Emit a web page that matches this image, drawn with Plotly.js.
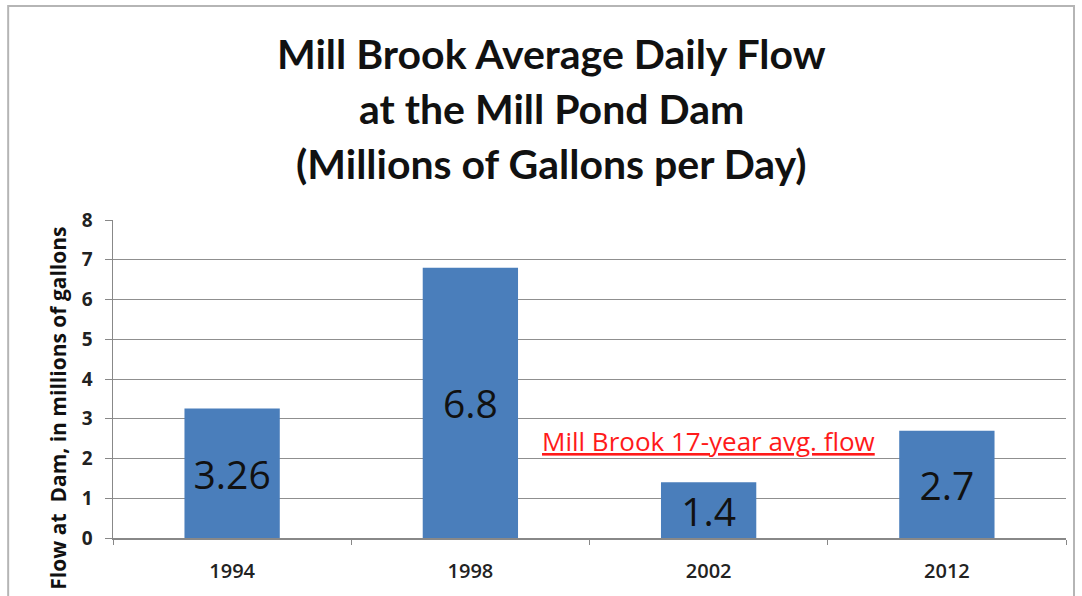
<!DOCTYPE html>
<html>
<head>
<meta charset="utf-8">
<script src="https://cdn.plot.ly/plotly-3.0.1.min.js"></script>
<style>html,body{margin:0;padding:0;background:#fff;}#chart{width:1082px;height:596px;}</style>
</head>
<body>
<div id="chart"></div>
<script>
const years = ['1994', '1998', '2002', '2012'];
const flows = [3.26, 6.8, 1.4, 2.7];
const flowLabels = ['3.26', '6.8', '1.4', '2.7'];
const titleLines = ['Mill Brook Average Daily Flow', 'at the Mill Pond Dam', '(Millions of Gallons per Day)'];
const yTitle = 'Flow at  Dam, in millions of gallons';
const noteText = 'Mill Brook 17-year avg. flow';
const noteYear = '2002';
const noteValue = 2.45;

const FONT = 'Lato, "Open Sans", sans-serif';
const OPEN = '"Open Sans", Lato, sans-serif';

const trace = {
  type: 'bar',
  x: years,
  y: flows,
  text: flowLabels,
  textposition: 'inside',
  insidetextanchor: 'middle',
  textangle: 0,
  textfont: {family: OPEN, size: 39, color: '#111'},
  constraintext: 'none',
  marker: {color: '#4a7ebb'},
  width: 0.4,
  hoverinfo: 'none'
};

const titleY = [1.525, 1.352, 1.179];
const annotations = titleLines.map((t, i) => ({
  text: t, xref: 'paper', yref: 'paper', x: 0.46, y: titleY[i],
  xanchor: 'center', yanchor: 'middle', showarrow: false,
  font: {family: FONT, size: 41, color: '#111', weight: 'bold'}
}));
annotations.push({
  text: yTitle, xref: 'paper', yref: 'paper', x: -0.058, y: 0.409,
  xanchor: 'center', yanchor: 'middle', textangle: -90, showarrow: false,
  font: {family: OPEN, size: 21, color: '#111', weight: 'bold'}
});
annotations.push({
  text: '<u>' + noteText + '</u>', x: years.indexOf(noteYear), y: noteValue, xref: 'x', yref: 'y',
  xanchor: 'center', yanchor: 'middle', showarrow: false,
  font: {family: OPEN, size: 26, color: '#ff1a1a'}
});

const layout = {
  width: 1082, height: 596,
  margin: {l: 113, r: 16, t: 220, b: 58},
  paper_bgcolor: '#fff', plot_bgcolor: '#fff',
  showlegend: false,
  font: {family: FONT, color: '#222'},
  xaxis: {
    type: 'category', range: [-0.5, years.length - 0.5], autorange: false,
    tickson: 'boundaries', ticks: 'outside', ticklen: 5, tickangle: 0,
    tickcolor: '#888', showline: true, linecolor: '#888', linewidth: 1.5,
    showgrid: false, tickfont: {family: OPEN, size: 20, color: '#222', weight: 600},
    ticklabelstandoff: 14,
    fixedrange: true
  },
  yaxis: {
    range: [0, 8], autorange: false, dtick: 1, ticks: 'outside', ticklen: 7, tickcolor: '#888',
    showline: true, linecolor: '#888', linewidth: 1.5,
    showgrid: true, gridcolor: '#8f8f8f', gridwidth: 1, zeroline: false,
    tickfont: {family: OPEN, size: 19, color: '#222', weight: 'bold'}, fixedrange: true,
    ticklabelstandoff: 8
  },
  annotations: annotations,
  shapes: [{
    type: 'rect', xref: 'paper', yref: 'paper',
    x0: -0.110, x1: 1.0084, y0: -0.2, y1: 1.673,
    line: {color: '#b5b5b5', width: 2}, fillcolor: 'rgba(0,0,0,0)', layer: 'below'
  }]
};

Plotly.newPlot('chart', [trace], layout, {displayModeBar: false, staticPlot: true});
</script>
</body>
</html>
